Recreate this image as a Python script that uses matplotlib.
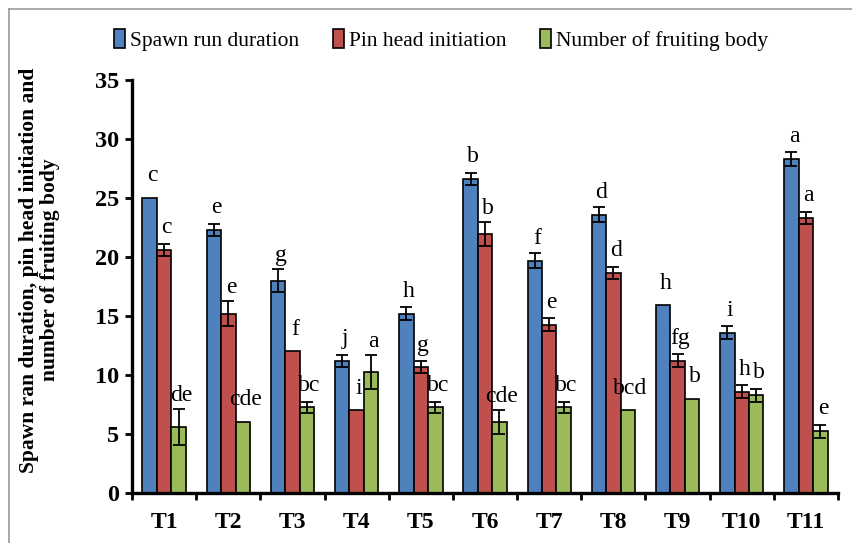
import numpy as np
import matplotlib
matplotlib.use('Agg')
import matplotlib.pyplot as plt
from matplotlib.lines import Line2D

plt.rcParams['font.family'] = ['Liberation Serif', 'DejaVu Serif']

# treatments
treatments = ['T1', 'T2', 'T3', 'T4', 'T5', 'T6', 'T7', 'T8', 'T9', 'T10', 'T11']

# spawn run duration
spawn = [25.0, 22.3, 18.0, 11.2, 15.2, 26.6, 19.7, 23.6, 15.9, 13.6, 28.3]
spawn_err = [0.0, 0.5, 1.0, 0.5, 0.55, 0.5, 0.6, 0.6, 0.0, 0.55, 0.6]
spawn_lab = ['c', 'e', 'g', 'j', 'h', 'b', 'f', 'd', 'h', 'i', 'a']

# pin head initiation
pinhead = [20.6, 15.2, 12.0, 7.0, 10.65, 21.95, 14.25, 18.65, 11.2, 8.6, 23.3]
pinhead_err = [0.5, 1.05, 0.0, 0.0, 0.5, 1.05, 0.55, 0.5, 0.55, 0.55, 0.5]
pinhead_lab = ['c', 'e', 'f', 'i', 'g', 'b', 'e', 'd', 'fg', 'h', 'a']

# number of fruiting body
fruiting = [5.6, 6.0, 7.25, 10.25, 7.25, 6.0, 7.25, 7.0, 8.0, 8.3, 5.25]
fruiting_err = [1.5, 0.0, 0.5, 1.45, 0.5, 1.0, 0.5, 0.0, 0.0, 0.55, 0.55]
fruiting_lab = ['de', 'cde', 'bc', 'a', 'bc', 'cde', 'bc', 'bcd', 'b', 'b', 'e']

series = [
    ('Spawn run duration', spawn, spawn_err, spawn_lab, '#4F81BD'),
    ('Pin head initiation', pinhead, pinhead_err, pinhead_lab, '#C0504D'),
    ('Number of fruiting body', fruiting, fruiting_err, fruiting_lab, '#9BBB59'),
]

fig = plt.figure(figsize=(8.52, 5.43), dpi=100)
ax = fig.add_axes([0.155, 0.092, 0.8286, 0.7607])

x = np.arange(len(treatments))
w = 0.225
for i, (name, vals, errs, labs, col) in enumerate(series):
    pos = x + (i - 1) * w
    ax.bar(pos, vals, width=w, color=col, edgecolor='black', linewidth=1.2,
           label=name, zorder=2)
    errs_arr = np.array(errs)
    mask = errs_arr > 0
    ax.errorbar(pos[mask], np.array(vals)[mask], yerr=errs_arr[mask], fmt='none',
                ecolor='black', elinewidth=1.3, capsize=4, capthick=1.3, zorder=3)
    for p, v, e, t in zip(pos, vals, errs, labs):
        ax.text(p + 0.04, v + max(e, 0.75) + 0.25, t, ha='center', va='bottom',
                fontsize=17, zorder=4)

ax.set_xlim(-0.5, len(treatments) - 0.5)
ax.set_ylim(0, 35)
ax.set_yticks(range(0, 36, 5))
ax.set_xticks(x)
ax.set_xticklabels(treatments)
ax.set_xticks(np.arange(-0.5, len(treatments), 1), minor=True)

for s in ['top', 'right']:
    ax.spines[s].set_visible(False)
for s in ['left', 'bottom']:
    ax.spines[s].set_linewidth(2.4)

ax.tick_params(axis='y', direction='out', length=5, width=2, pad=4,
               labelsize=17.5)
ax.tick_params(axis='x', which='major', length=0, pad=14, labelsize=17)
ax.tick_params(axis='x', which='minor', direction='out', length=5, width=2)
for t in ax.get_xticklabels() + ax.get_yticklabels():
    t.set_fontweight('bold')

fig.text(0.046, 1 - 270 / 543,
         'Spawn ran duration, pin head initiation and\nnumber of fruiting body',
         rotation=90, ha='center', va='center', fontsize=15.5, fontweight='bold',
         multialignment='center', linespacing=1.05)

ax.legend(loc='center', bbox_to_anchor=(0.4377, 1 + 40 / 413),
          ncol=3, frameon=False, fontsize=15.5, handlelength=0.5,
          handleheight=1.0, handletextpad=0.25, columnspacing=1.55)

# chart area border
fig.add_artist(Line2D([9 / 852, 9 / 852], [0, 1 - 9 / 543], color='#999999', lw=1.2))
fig.add_artist(Line2D([9 / 852, 1], [1 - 9 / 543, 1 - 9 / 543], color='#999999', lw=1.2))

fig.savefig('out.png', dpi=100)
